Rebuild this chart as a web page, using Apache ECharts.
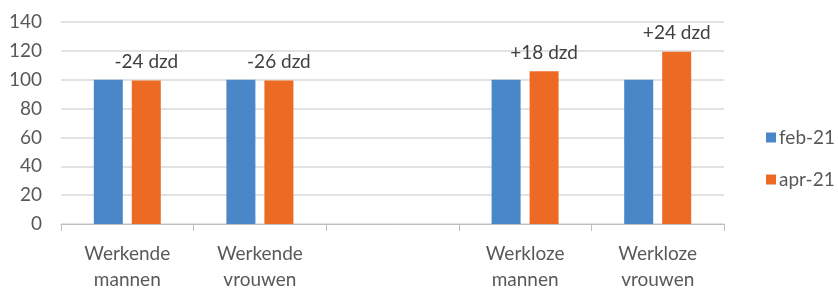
<!DOCTYPE html>
<html>
<head>
<meta charset="utf-8">
<script src="https://cdn.jsdelivr.net/npm/echarts@6/dist/echarts.min.js"></script>
<style>
  html, body { margin: 0; padding: 0; background: #fff; }
  #chart { width: 838px; height: 293px; }
</style>
</head>
<body>
<div id="chart"></div>
<script>
// gegevens (index feb-21 = 100)
var categories = ['Werkende\nmannen', 'Werkende\nvrouwen', '', 'Werkloze\nmannen', 'Werkloze\nvrouwen'];
var feb21 = [100, 100, '-', 100, 100];
var apr21 = [99.5, 99.4, '-', 105.8, 119.3];
var changeLabels = ['-24 dzd', '-26 dzd', '', '+18 dzd', '+24 dzd'];
var yTicks = [0, 20, 40, 60, 80, 100, 120, 140];

var myChart = echarts.init(document.getElementById('chart'));
var textColor = '#595959';
var font = 'Lato, "Open Sans", sans-serif';

var option = {
  animation: false,
  textStyle: { fontFamily: font },
  grid: { left: 61, right: 114, top: 22, bottom: 62 },
  legend: {
    orient: 'vertical',
    left: 761,
    top: 123,
    itemWidth: 10,
    itemHeight: 10,
    itemGap: 23,
    icon: 'rect',
    textStyle: { fontSize: 19, color: textColor, fontFamily: font, padding: [0, 0, 0, -2] },
    data: ['feb-21', 'apr-21']
  },
  xAxis: {
    type: 'category',
    data: categories,
    axisLine: { lineStyle: { color: '#bfbfbf' } },
    axisTick: { show: true, length: 7, lineStyle: { color: '#bfbfbf' } },
    axisLabel: { fontSize: 19, color: textColor, lineHeight: 26, margin: 17, interval: 0 }
  },
  yAxis: {
    type: 'value',
    min: yTicks[0],
    max: yTicks[yTicks.length - 1],
    interval: 20,
    axisLine: { show: false },
    axisTick: { show: false },
    axisLabel: { fontSize: 19, color: textColor, margin: 19 },
    splitLine: { lineStyle: { color: '#d9d9d9', width: 1.5 } }
  },
  series: [
    {
      name: 'feb-21',
      type: 'bar',
      data: feb21,
      barWidth: 29,
      barGap: '31%',
      itemStyle: { color: '#4a87c9' }
    },
    {
      name: 'apr-21',
      type: 'bar',
      data: apr21,
      barWidth: 29,
      itemStyle: { color: '#ec6a24' },
      label: {
        show: true,
        position: 'top',
        distance: 9,
        fontSize: 19,
        color: '#404040',
        fontFamily: font,
        formatter: function (p) { return changeLabels[p.dataIndex]; }
      }
    }
  ]
};
option && myChart.setOption(option);
</script>
</body>
</html>
